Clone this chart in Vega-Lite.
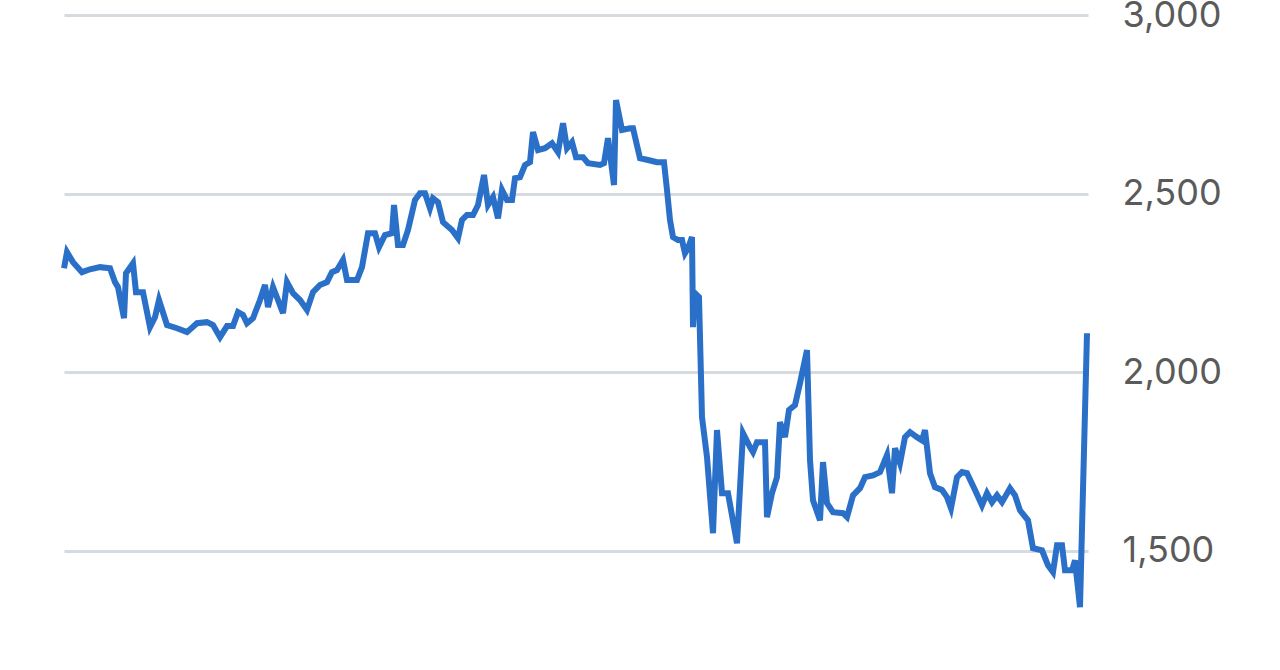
{
  "$schema": "https://vega.github.io/schema/vega-lite/v6.json",
  "autosize": "none",
  "width": 1024,
  "height": 625,
  "padding": {"left": 64, "top": 15, "right": 192, "bottom": 30},
  "background": "#ffffff",
  "config": {"view": {"stroke": null}},
  "data": {"values": [
    {"t": 0, "v": 2291}, {"t": 0.75, "v": 2336}, {"t": 2.25, "v": 2308}, {"t": 4.5, "v": 2280},
    {"t": 6.5, "v": 2288}, {"t": 9, "v": 2294}, {"t": 11.5, "v": 2291}, {"t": 12.75, "v": 2252},
    {"t": 13.5, "v": 2238}, {"t": 15, "v": 2151}, {"t": 15.5, "v": 2277}, {"t": 17.25, "v": 2305},
    {"t": 18, "v": 2224}, {"t": 19.75, "v": 2224}, {"t": 21.5, "v": 2126}, {"t": 22.75, "v": 2154},
    {"t": 23.75, "v": 2202}, {"t": 25.75, "v": 2132}, {"t": 28.25, "v": 2123}, {"t": 30.75, "v": 2112},
    {"t": 33.25, "v": 2137}, {"t": 35.75, "v": 2140}, {"t": 37.25, "v": 2132}, {"t": 39, "v": 2098},
    {"t": 40.75, "v": 2129}, {"t": 42.25, "v": 2129}, {"t": 43.5, "v": 2168}, {"t": 44.75, "v": 2160},
    {"t": 45.75, "v": 2137}, {"t": 47.25, "v": 2151}, {"t": 49, "v": 2202}, {"t": 50.25, "v": 2244},
    {"t": 51, "v": 2182}, {"t": 52.25, "v": 2238}, {"t": 53.5, "v": 2202}, {"t": 54.75, "v": 2165},
    {"t": 55.75, "v": 2252}, {"t": 57.25, "v": 2221}, {"t": 59, "v": 2202}, {"t": 60.75, "v": 2174},
    {"t": 62.25, "v": 2224}, {"t": 64, "v": 2244}, {"t": 65.75, "v": 2252}, {"t": 67, "v": 2280},
    {"t": 68.25, "v": 2286}, {"t": 69.75, "v": 2314}, {"t": 70.75, "v": 2258}, {"t": 73.25, "v": 2258},
    {"t": 74.5, "v": 2294}, {"t": 76, "v": 2389}, {"t": 77.75, "v": 2389}, {"t": 78.75, "v": 2350},
    {"t": 80.25, "v": 2384}, {"t": 82, "v": 2389}, {"t": 82.5, "v": 2468}, {"t": 83.5, "v": 2356},
    {"t": 84.75, "v": 2356}, {"t": 86, "v": 2398}, {"t": 87.75, "v": 2482}, {"t": 89, "v": 2501},
    {"t": 90.25, "v": 2501}, {"t": 91.5, "v": 2459}, {"t": 92.25, "v": 2487}, {"t": 93.5, "v": 2476},
    {"t": 94.75, "v": 2420}, {"t": 97, "v": 2398}, {"t": 98.5, "v": 2375}, {"t": 99.5, "v": 2426},
    {"t": 100.75, "v": 2440}, {"t": 102.25, "v": 2440}, {"t": 103.5, "v": 2468}, {"t": 105, "v": 2552},
    {"t": 106, "v": 2468}, {"t": 107.25, "v": 2490}, {"t": 108.5, "v": 2431}, {"t": 109.5, "v": 2510},
    {"t": 110.75, "v": 2482}, {"t": 112, "v": 2482}, {"t": 112.75, "v": 2543}, {"t": 114, "v": 2546},
    {"t": 115.25, "v": 2580}, {"t": 116.5, "v": 2588}, {"t": 117.25, "v": 2672}, {"t": 118.5, "v": 2622},
    {"t": 120.25, "v": 2627}, {"t": 122, "v": 2641}, {"t": 123.5, "v": 2616}, {"t": 124.75, "v": 2697},
    {"t": 125.75, "v": 2627}, {"t": 127, "v": 2644}, {"t": 128, "v": 2602}, {"t": 129.75, "v": 2602},
    {"t": 131, "v": 2585}, {"t": 134, "v": 2580}, {"t": 135, "v": 2585}, {"t": 136, "v": 2655},
    {"t": 137.5, "v": 2524}, {"t": 138, "v": 2762}, {"t": 139.5, "v": 2678}, {"t": 141.5, "v": 2683},
    {"t": 142.25, "v": 2683}, {"t": 144, "v": 2599}, {"t": 146, "v": 2594}, {"t": 148.25, "v": 2588},
    {"t": 150, "v": 2588}, {"t": 150.75, "v": 2510}, {"t": 151.5, "v": 2426}, {"t": 152.25, "v": 2378},
    {"t": 153.5, "v": 2370}, {"t": 154.5, "v": 2370}, {"t": 155.25, "v": 2333}, {"t": 156, "v": 2347},
    {"t": 157, "v": 2378}, {"t": 157.25, "v": 2126}, {"t": 157.75, "v": 2221}, {"t": 158.75, "v": 2210},
    {"t": 159.5, "v": 1874}, {"t": 160.75, "v": 1762}, {"t": 162.25, "v": 1549}, {"t": 163.25, "v": 1838},
    {"t": 164.5, "v": 1661}, {"t": 166, "v": 1661}, {"t": 168.25, "v": 1521}, {"t": 169.75, "v": 1829},
    {"t": 171.5, "v": 1790}, {"t": 172.25, "v": 1776}, {"t": 173.25, "v": 1804}, {"t": 175.25, "v": 1804},
    {"t": 175.75, "v": 1594}, {"t": 177, "v": 1661}, {"t": 178.25, "v": 1706}, {"t": 179, "v": 1860},
    {"t": 180.25, "v": 1818}, {"t": 181.25, "v": 1894}, {"t": 182.75, "v": 1908}, {"t": 184, "v": 1969},
    {"t": 185.75, "v": 2062}, {"t": 186.5, "v": 1754}, {"t": 187.25, "v": 1641}, {"t": 189, "v": 1585},
    {"t": 189.75, "v": 1748}, {"t": 190.75, "v": 1633}, {"t": 192.25, "v": 1608}, {"t": 194.75, "v": 1605},
    {"t": 195.75, "v": 1594}, {"t": 197.25, "v": 1655}, {"t": 199, "v": 1675}, {"t": 200.25, "v": 1706},
    {"t": 202.25, "v": 1711}, {"t": 204, "v": 1720}, {"t": 205.75, "v": 1768}, {"t": 207, "v": 1661},
    {"t": 207.75, "v": 1787}, {"t": 209, "v": 1745}, {"t": 210.25, "v": 1818}, {"t": 211.5, "v": 1832},
    {"t": 213.25, "v": 1818}, {"t": 214.5, "v": 1809}, {"t": 215.25, "v": 1838}, {"t": 216.5, "v": 1717},
    {"t": 217.75, "v": 1678}, {"t": 219.5, "v": 1670}, {"t": 220.75, "v": 1650}, {"t": 221.75, "v": 1619},
    {"t": 223.25, "v": 1706}, {"t": 224.5, "v": 1720}, {"t": 225.75, "v": 1717}, {"t": 227.75, "v": 1670},
    {"t": 229.5, "v": 1627}, {"t": 230.75, "v": 1661}, {"t": 232, "v": 1636}, {"t": 233.25, "v": 1655},
    {"t": 234.5, "v": 1636}, {"t": 236.5, "v": 1675}, {"t": 237.75, "v": 1655}, {"t": 239, "v": 1613},
    {"t": 241, "v": 1585}, {"t": 242.25, "v": 1507}, {"t": 244.5, "v": 1501}, {"t": 246, "v": 1459},
    {"t": 247.25, "v": 1440}, {"t": 248.25, "v": 1515}, {"t": 249.5, "v": 1515}, {"t": 250.25, "v": 1445},
    {"t": 252, "v": 1445}, {"t": 252.75, "v": 1473}, {"t": 254, "v": 1342}, {"t": 255.75, "v": 2109}
  ]},
  "mark": {"type": "line", "color": "#2b70c8", "strokeWidth": 6},
  "encoding": {
    "x": {"field": "t", "type": "quantitative", "scale": {"domain": [0, 256], "nice": false, "zero": false}, "axis": null},
    "y": {
      "field": "v", "type": "quantitative",
      "scale": {"domain": [1250, 3000], "nice": false, "zero": false},
      "axis": {
        "orient": "right", "title": null, "values": [1500, 2000, 2500, 3000], "format": ",.0f",
        "domain": false, "ticks": false, "labelPadding": 34,
        "labelFont": "Inter", "labelFontSize": 36, "labelColor": "#5a5a5a",
        "labelAlign": "left", "labelBaseline": "middle",
        "grid": true, "gridColor": "#d5dbdf", "gridWidth": 3
      }
    }
  }
}
